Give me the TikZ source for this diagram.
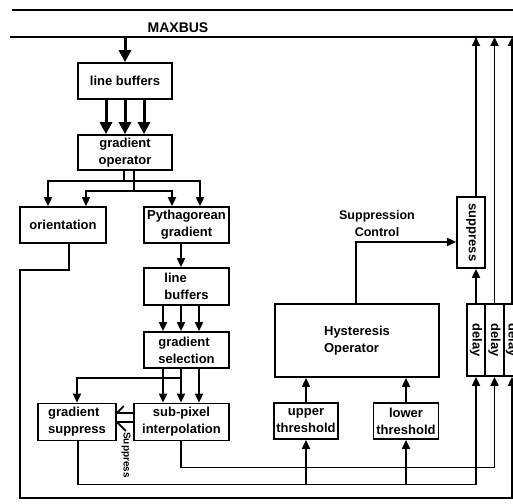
\documentclass[tikz,border=0pt]{standalone}
\usepackage{graphicx}
\usepackage{fontspec}
\setmainfont{Liberation Sans}
\usetikzlibrary{arrows.meta}

\newcommand{\vtext}[1]{\rotatebox{-90}{#1}}

\tikzset{
  blk/.style={draw, line width=1.7pt, inner sep=0pt, align=center, font={\fontsize{13}{17}\selectfont\bfseries}},
  lbl/.style={inner sep=0pt, align=center, font={\fontsize{12.5}{17}\selectfont\bfseries}},
  wire/.style={line width=1.7pt},
  arr/.style={line width=1.7pt, -{Triangle[length=9pt,width=8pt]}},
  bigarr/.style={line width=3pt, -{Triangle[length=12pt,width=12pt]}},
}

\begin{document}
\begin{tikzpicture}[x=1pt, y=-1pt]
\useasboundingbox (0,0) rectangle (513,503);
\clip (0,0) rectangle (513,503);

\coordinate (busl) at (10,37);
\coordinate (busr) at (513,37);
\coordinate (lowleft) at (20,498);
\draw [line width=2pt] (12,10) -- (513,10);
\draw [line width=2pt] (busl) -- (busr);
\node [lbl, font={\fontsize{14}{17}\selectfont\bfseries}] (maxbus) at (178,28) {MAXBUS};

\node [blk, minimum width=94pt, minimum height=36pt] (lb1) at (125,81) {line buffers};
\node [blk, minimum width=94pt, minimum height=35pt] (gop) at (125,152.5) {gradient\\operator};
\node [blk, minimum width=86pt, minimum height=36pt] (orient) at (63,225) {orientation};
\node [blk, minimum width=85pt, minimum height=36pt] (pyth) at (186.5,225) {Pythagorean\\gradient};
\node [blk, align=left, minimum width=85pt, minimum height=37pt] (lb2) at (186.5,286.5) {line\\buffers};
\node [blk, align=left, minimum width=85pt, minimum height=36pt] (gsel) at (186.5,350) {gradient\\selection};
\node [blk, align=left, minimum width=78pt, minimum height=37pt] (gsup) at (77,422) {gradient\\suppress};
\node [blk, minimum width=95pt, minimum height=37pt] (subpix) at (181.5,422) {sub-pixel\\interpolation};
\node [blk, align=left, minimum width=164pt, minimum height=73pt] (hyst) at (357,340.5) {Hysteresis\\Operator};
\node [blk, minimum width=64pt, minimum height=36pt] (upth) at (306,421) {upper\\threshold};
\node [blk, minimum width=65pt, minimum height=36pt] (loth) at (406,421) {lower\\threshold};
\node [blk, minimum width=28pt, minimum height=71pt] (supbox) at (471,232.5) {\vtext{suppress}};
\node [blk, minimum width=18pt, minimum height=72pt] (del1) at (476,340) {\vtext{delay}};
\node [blk, minimum width=18pt, minimum height=72pt] (del2) at (494.5,340) {\vtext{delay}};
\node [blk, minimum width=16pt, minimum height=72pt] (del3) at (512,340) {\vtext{delay}};
\node [lbl] (supctl) at (377,224) {Suppression\\Control};
\node [lbl, rotate=-90, font={\fontsize{10}{12}\selectfont\bfseries}] (supl) at (126,455) {Suppress};

\draw [bigarr] (busl -| lb1.north) -- (lb1.north);
\foreach \dx in {-19,0,19}
  \draw [bigarr] ([xshift=\dx pt]lb1.south) -- ([xshift=\dx pt]gop.north);

\draw [wire] ([xshift=-1pt]gop.south) -- ++(0,10) coordinate (ga);
\draw [wire] ([xshift=9pt]gop.south) -- ++(0,20) coordinate (gb);
\draw [arr] (ga) -| ([xshift=-15pt]orient.north);
\draw [arr] (ga) -| ([xshift=13.5pt]pyth.north);
\draw [arr] (gb) -| ([xshift=23pt]orient.north);
\draw [arr] (gb) -| ([xshift=-14.5pt]pyth.north);

\draw [arr] ([xshift=6pt]orient.south) -- ++(0,26) -| (lowleft) -| (del3.south);

\draw [arr] ([xshift=-5.5pt]pyth.south) -- ([xshift=-5.5pt]lb2.north);
\foreach \dx in {-23.5,-5.5,12.5}
  \draw [arr] ([xshift=\dx pt]lb2.south) -- ([xshift=\dx pt]gsel.north);
\foreach \da/\db in {-23.5/-18.5,-5.5/-0.5,12.5/17.5}
  \draw [arr] ([xshift=\da pt]gsel.south) -- ([xshift=\db pt]subpix.north);
\draw [arr] ([xshift=-5.5pt,yshift=-9pt]gsel.south) -| (gsup.north);

\draw [wire] ([yshift=9pt]subpix.west) -- ([yshift=9pt]gsup.east) -- ++(7,-7);
\draw [wire] (subpix.west) -- (gsup.east) -- ++(9,9);

\draw [arr] ([xshift=-0.5pt]subpix.south) -- ++(0,26) -| (del2.south);
\draw [arr] ([xshift=1pt]gsup.south) -- ++(0,43) coordinate (gs) -| (del1.south);
\draw [arr] (gs -| upth.south) -- (upth.south);
\draw [arr] (gs -| loth.south) -- (loth.south);

\draw [arr] (upth.north) -- (upth.north |- hyst.south);
\draw [arr] (loth.north) -- (loth.north |- hyst.south);
\draw [arr] ([xshift=-1pt]hyst.north) |- ([yshift=-9.5pt]supbox.west);

\draw [arr] (del1.north) -- (del1.north |- supbox.south);
\draw [arr] (del1.north |- supbox.north) -- (del1.north |- busr);
\draw [arr] (del2.north) -- (del2.north |- busr);
\draw [arr] (del3.north) -- (del3.north |- busr);
\end{tikzpicture}
\end{document}
